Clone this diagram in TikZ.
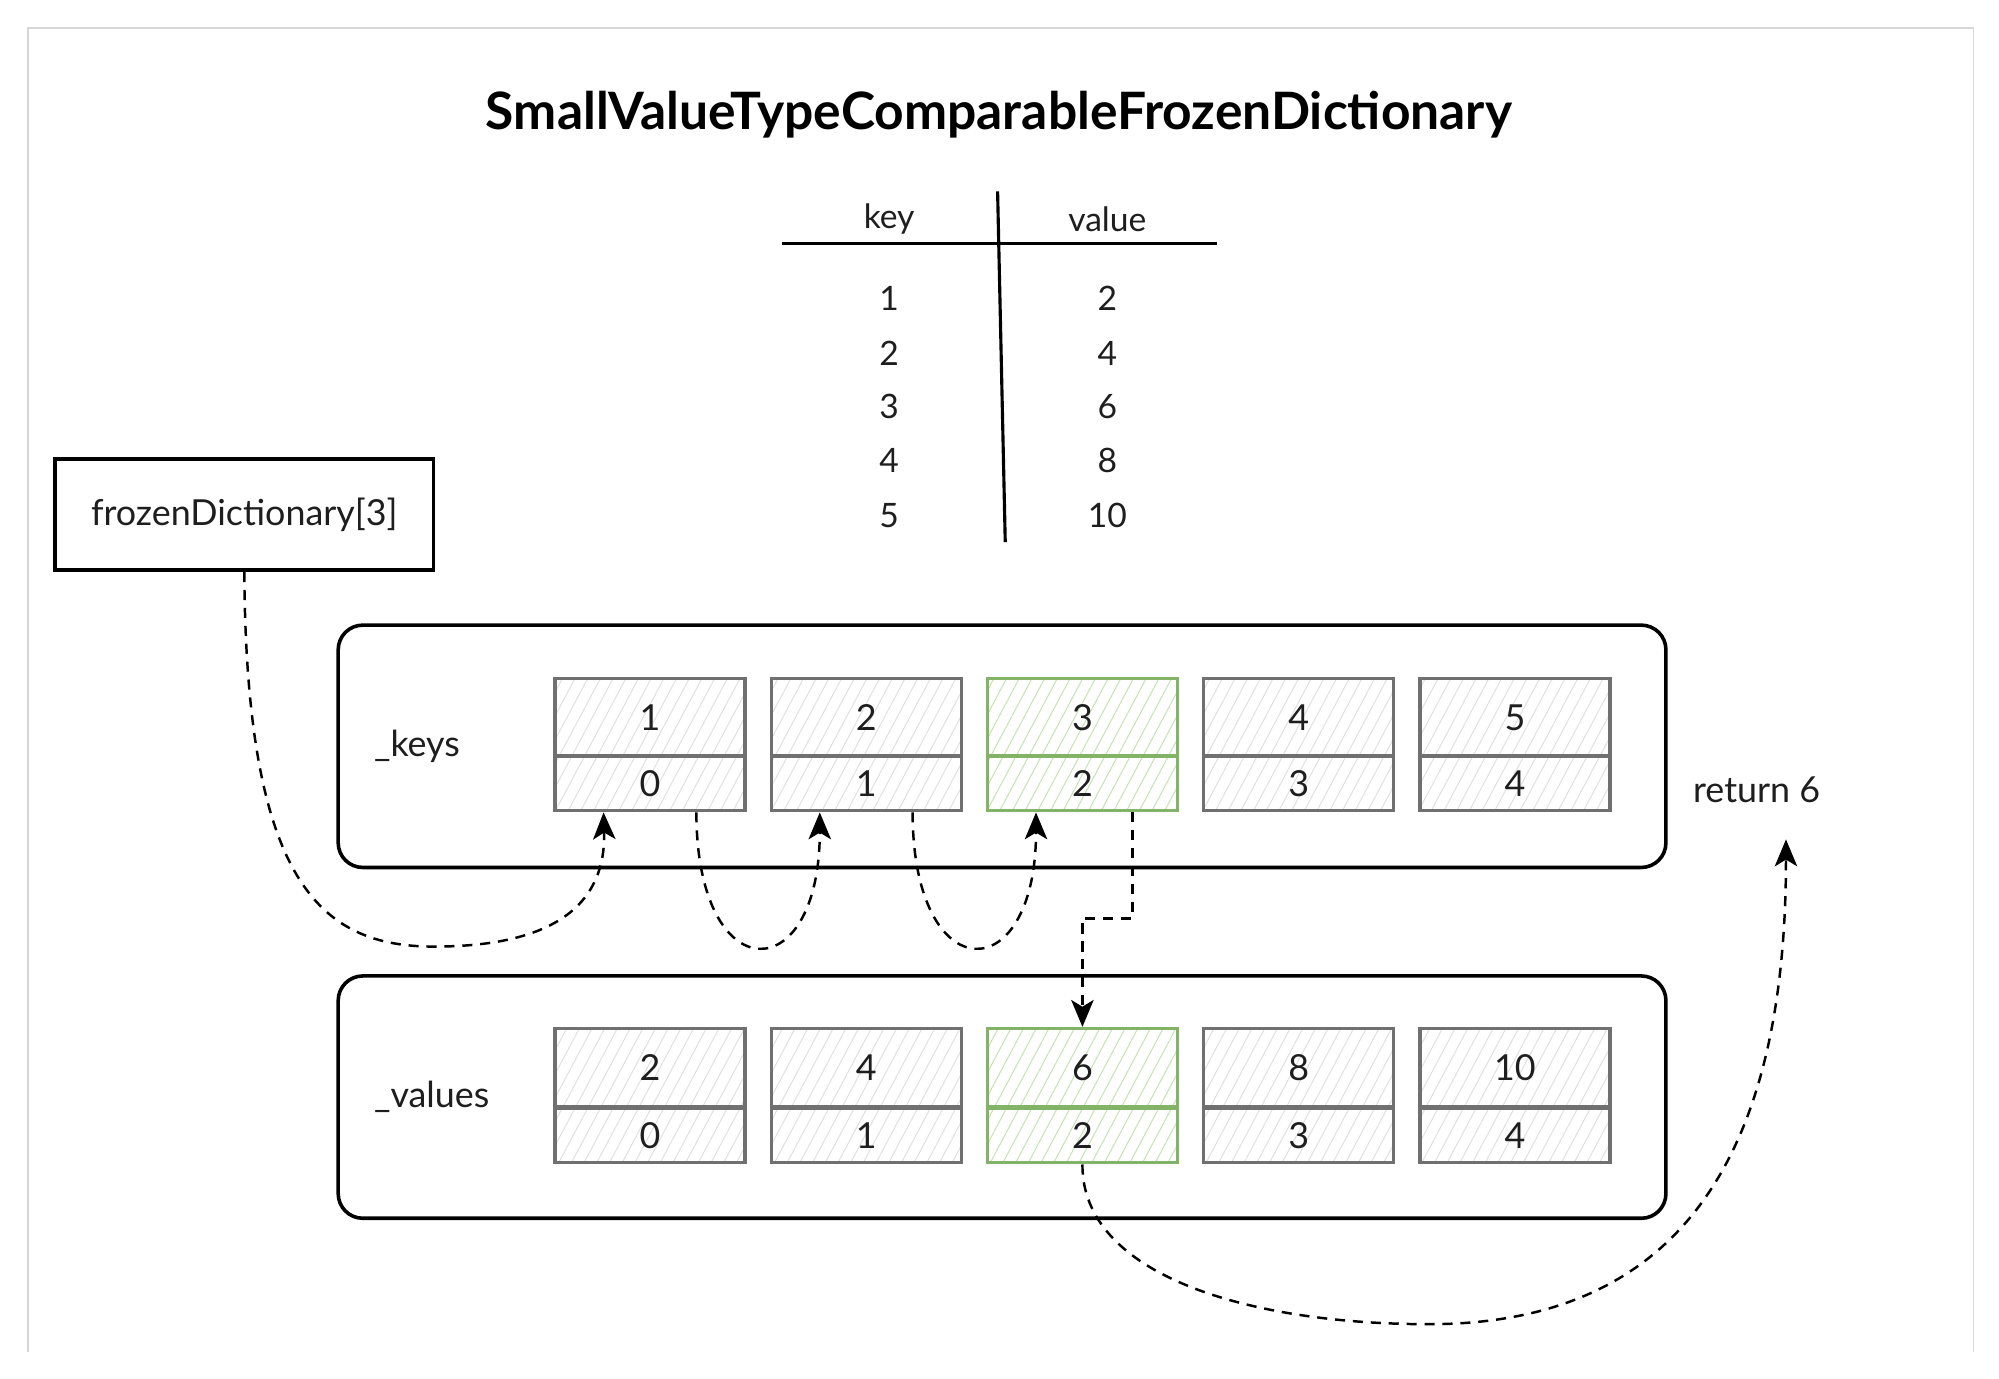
\documentclass[tikz,border=0pt]{standalone}
\usepackage{fontspec}
\setmainfont{Lato}
\usetikzlibrary{arrows.meta,patterns.meta,calc}
\definecolor{cellgrey}{HTML}{707070}
\definecolor{hatchgrey}{HTML}{E0E0E0}
\definecolor{cellgreen}{HTML}{82B366}
\definecolor{hatchgreen}{HTML}{C6E2B4}
\definecolor{framegrey}{HTML}{D6D6D6}
\definecolor{ink}{HTML}{1E1E1E}
\tikzset{
  bodyfont/.style={font=\fontsize{16}{18}\selectfont, text=ink},
  cellbase/.style={line width=1.5pt, inner sep=0pt, minimum width=2.98cm, bodyfont},
  greycell/.style={cellbase, draw=cellgrey, pattern={Lines[angle=62,distance=5pt,line width=0.45pt]}, pattern color=hatchgrey},
  greencell/.style={cellbase, draw=cellgreen, pattern={Lines[angle=62,distance=5pt,line width=0.45pt]}, pattern color=hatchgreen},
  topcell/.style={minimum height=1.23cm},
  botcell/.style={minimum height=0.86cm},
  container/.style={draw=black, line width=1.6pt, rounded corners=11pt, minimum width=20.82cm, minimum height=3.8cm, inner sep=0pt},
  flowarrow/.style={draw=black, line width=1.1pt, dash pattern=on 4.5pt off 3.5pt, -{Stealth[length=12pt,width=10pt,inset=3pt]}},
  tabletext/.style={font=\fontsize{15}{17}\selectfont, text=ink},
}
\begin{document}
\begin{tikzpicture}[x=0.02cm,y=-0.02cm]
\useasboundingbox (0,0) rectangle (1567,1080.2);
% page frame
\draw[framegrey, line width=0.6pt] (22,1060) -- (22,22) -- (1547,22) -- (1547,1060);

% title
\node[font=\fontsize{23}{26}\selectfont\bfseries, text=black] (title) at (783,90) {SmallValueTypeComparableFrozenDictionary};

% key/value table
\node[tabletext] (hkey) at (697,172) {key};
\node[tabletext] (hval) at (868,172) {value};
\coordinate (hl) at (613,191);
\coordinate (hr) at (954,191);
\coordinate (vt) at (782,150);
\coordinate (vb) at (788,425);
\draw[black, line width=1.6pt] (hl) -- (hr);
\draw[black, line width=1.4pt] (vt) -- (vb);
\foreach \k/\v/\y in {1/2/234, 2/4/277, 3/6/319, 4/8/361, 5/10/404}{
  \node[tabletext] (tk\k) at (697,\y) {\k};
  \node[tabletext] (tv\k) at (868,\y) {\v};
}

% lookup box
\node[draw=black, line width=1.6pt, minimum width=5.94cm, minimum height=1.74cm, inner sep=0pt, bodyfont] (fd) at (191.5,403.5) {frozenDictionary[3]};

% containers
\node[container] (keys) at (785.5,585) {};
\node[container] (vals) at (785.5,860) {};
\node[bodyfont, anchor=west] (keyslabel) at (287,585) {\_keys};
\node[bodyfont, anchor=west] (valslabel) at (287,860) {\_values};

% key cells
\foreach \i/\k in {1/1,2/2,4/4,5/5}{
  \pgfmathsetmacro{\cx}{509.5+169.5*(\i-1)}
  \node[greycell, topcell] (kt\i) at (\cx,562.5) {\k};
  \node[greycell, botcell] (kb\i) at (\cx,614) {\the\numexpr\i-1\relax};
}
\node[greencell, topcell] (kt3) at (848.5,562.5) {3};
\node[greencell, botcell] (kb3) at (848.5,614) {2};

% value cells
\foreach \i/\v in {1/2,2/4,4/8,5/10}{
  \pgfmathsetmacro{\cx}{509.5+169.5*(\i-1)}
  \node[greycell, topcell] (vt\i) at (\cx,837) {\v};
  \node[greycell, botcell] (vb\i) at (\cx,890) {\the\numexpr\i-1\relax};
}
\node[greencell, topcell] (vt3) at (848.5,837) {6};
\node[greencell, botcell] (vb3) at (848.5,890) {2};

% result
\node[bodyfont] (ret) at (1377,619) {return 6};
\coordinate (retpt) at (1400,658);

% connectors
\draw[flowarrow] (fd.south) .. controls (193,690) and (250,742) .. (340,742)
   .. controls (440,742) and (475,705) .. ($(kb1.south west)!0.26!(kb1.south east)$);
\draw[flowarrow] ($(kb1.south west)!0.74!(kb1.south east)$) .. controls +(0,140) and +(0,140) .. ($(kb2.south west)!0.26!(kb2.south east)$);
\draw[flowarrow] ($(kb2.south west)!0.74!(kb2.south east)$) .. controls +(0,140) and +(0,140) .. ($(kb3.south west)!0.26!(kb3.south east)$);
\draw[flowarrow] ($(kb3.south west)!0.76!(kb3.south east)$) -- ++(0,83) -| (vt3.north);
\draw[flowarrow] (vb3.south) .. controls (848,1000) and (980,1038) .. (1120,1038)
   .. controls (1335,1038) and (1400,880) .. (retpt);
\end{tikzpicture}
\end{document}
